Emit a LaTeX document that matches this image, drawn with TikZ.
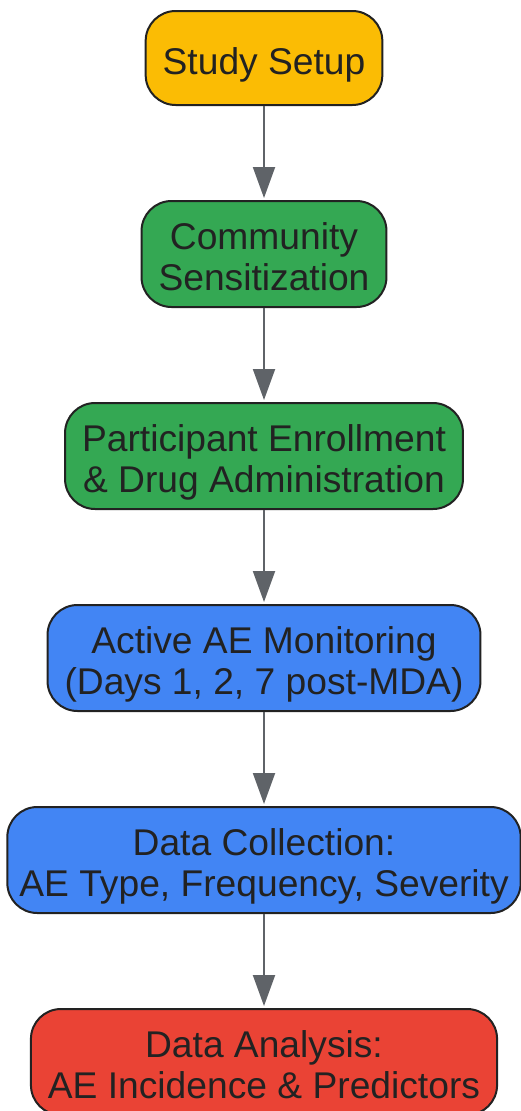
\documentclass[tikz,border=0pt]{standalone}
\usepackage{fontspec}
\setmainfont{Liberation Sans}
\usepackage{xcolor}
\usetikzlibrary{positioning,arrows.meta}

\definecolor{setupyellow}{HTML}{FBBC04}
\definecolor{fieldgreen}{HTML}{34A853}
\definecolor{monitorblue}{HTML}{4285F4}
\definecolor{analysisred}{HTML}{EA4335}
\definecolor{boxline}{HTML}{222222}
\definecolor{arrowgray}{HTML}{5F6368}
\newcommand{\topstrut}{\rule{0pt}{41pt}}

\begin{document}
\begin{tikzpicture}[-{Triangle[width=22pt,length=31pt]}, shorten >=2pt, line width=2pt, node distance=94pt,
  phase/.style={rectangle, rounded corners=30pt, draw=boxline, line width=2pt, text=boxline, align=center,
    font=\fontsize{37.2}{41}\selectfont, execute at end node={\rule[-9pt]{0pt}{9pt}},
    inner xsep=17pt, inner ysep=7.5pt, minimum height=94pt}]
\useasboundingbox (0,0) rectangle (521pt,-1111pt);

\node [phase, fill=setupyellow] (setup) at (264pt,-58pt) {\topstrut Study Setup};
\node [phase, fill=fieldgreen] (sensit) [below=of setup] {\topstrut Community\\Sensitization};
\node [phase, fill=fieldgreen] (enrol) [below=of sensit] {\topstrut Participant Enrollment\\\& Drug Administration};
\node [phase, fill=monitorblue] (monitor) [below=of enrol] {\topstrut Active AE Monitoring\\(Days 1, 2, 7 post-MDA)};
\node [phase, fill=monitorblue, inner xsep=12pt] (collect) [below=of monitor] {\topstrut Data Collection:\\AE Type, Frequency, Severity};
\node [phase, fill=analysisred] (analysis) [below=of collect] {\topstrut Data Analysis:\\AE Incidence \& Predictors};

\path [color=arrowgray]
(setup) edge (sensit)
(sensit) edge (enrol)
(enrol) edge (monitor)
(monitor) edge (collect)
(collect) edge (analysis);
\end{tikzpicture}
\end{document}
